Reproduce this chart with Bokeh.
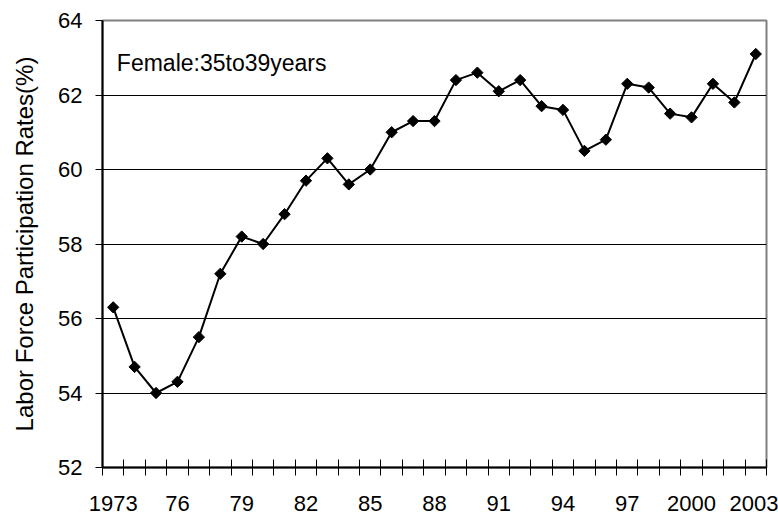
import math
from bokeh.plotting import figure
from bokeh.models import FixedTicker, Range1d, Label, ColumnDataSource
from bokeh.embed import file_html
from bokeh.resources import INLINE

years = list(range(1973, 2004))
rates = [56.3, 54.7, 54.0, 54.3, 55.5, 57.2, 58.2, 58.0, 58.8, 59.7,
         60.3, 59.6, 60.0, 61.0, 61.3, 61.3, 62.4, 62.6, 62.1, 62.4,
         61.7, 61.6, 60.5, 60.8, 62.3, 62.2, 61.5, 61.4, 62.3, 61.8, 63.1]
label_years = [1973, 1976, 1979, 1982, 1985, 1988, 1991, 1994, 1997, 2000, 2003]
label_texts = ["1973", "76", "79", "82", "85", "88", "91", "94", "97", "2000", "2003"]
y_ticks = [52, 54, 56, 58, 60, 62, 64]
title_text = "Female:35to39years"
y_title = "Labor Force Participation Rates(%)"

FONT = "Liberation Sans"
FS = "22px"

p = figure(width=778, height=521, output_backend="svg", toolbar_location=None,
           x_range=Range1d(years[0] - 0.5, years[-1] + 0.5),
           y_range=Range1d(52, 64),
           min_border_left=102, min_border_right=12, min_border_top=20, min_border_bottom=54)
p.background_fill_color = "white"
p.border_fill_color = "white"
p.outline_line_color = "#808080"
p.outline_line_width = 2

src = ColumnDataSource(dict(x=years, y=rates))
p.line("x", "y", source=src, line_color="black", line_width=2)
p.scatter("x", "y", source=src, marker="square", size=8, angle=math.pi / 4,
          fill_color="black", line_color="black")

# x axis
xt = FixedTicker(ticks=label_years,
                 minor_ticks=[y - 0.5 for y in years] + [years[-1] + 0.5])
p.xaxis.ticker = xt
p.xaxis.axis_label = None
p.xaxis.major_label_overrides = {y: t for y, t in zip(label_years, label_texts)}
p.xaxis.major_tick_line_color = None
p.xaxis.major_tick_in = 0
p.xaxis.major_tick_out = 0
p.xaxis.minor_tick_line_color = "black"
p.xaxis.minor_tick_in = 8
p.xaxis.minor_tick_out = 8
p.xaxis.axis_line_color = "black"
p.xaxis.axis_line_width = 2
p.xaxis.major_label_text_font = FONT
p.xaxis.major_label_text_font_size = FS
p.xaxis.major_label_text_color = "black"
p.xaxis.major_label_standoff = 20
p.xgrid.grid_line_color = None

# y axis
p.yaxis.ticker = FixedTicker(ticks=y_ticks, minor_ticks=[])
p.yaxis.major_tick_line_color = "black"
p.yaxis.major_tick_in = 0
p.yaxis.major_tick_out = 7
p.yaxis.axis_line_color = "black"
p.yaxis.axis_line_width = 2
p.yaxis.major_label_text_font = FONT
p.yaxis.major_label_text_font_size = FS
p.yaxis.major_label_text_color = "black"
p.yaxis.major_label_standoff = 13
p.yaxis.axis_label = y_title
p.yaxis.axis_label_text_font = FONT
p.yaxis.axis_label_text_font_size = "24px"
p.yaxis.axis_label_text_font_style = "normal"
p.yaxis.axis_label_text_color = "black"
p.yaxis.axis_label_standoff = 17
p.ygrid.grid_line_color = "black"
p.ygrid.grid_line_width = 1

p.add_layout(Label(x=1973.17, y=62.87, text=title_text, text_font=FONT,
                   text_font_size="23px", text_baseline="alphabetic", text_color="black"))

open("out.html", "w").write(file_html(p, INLINE))
